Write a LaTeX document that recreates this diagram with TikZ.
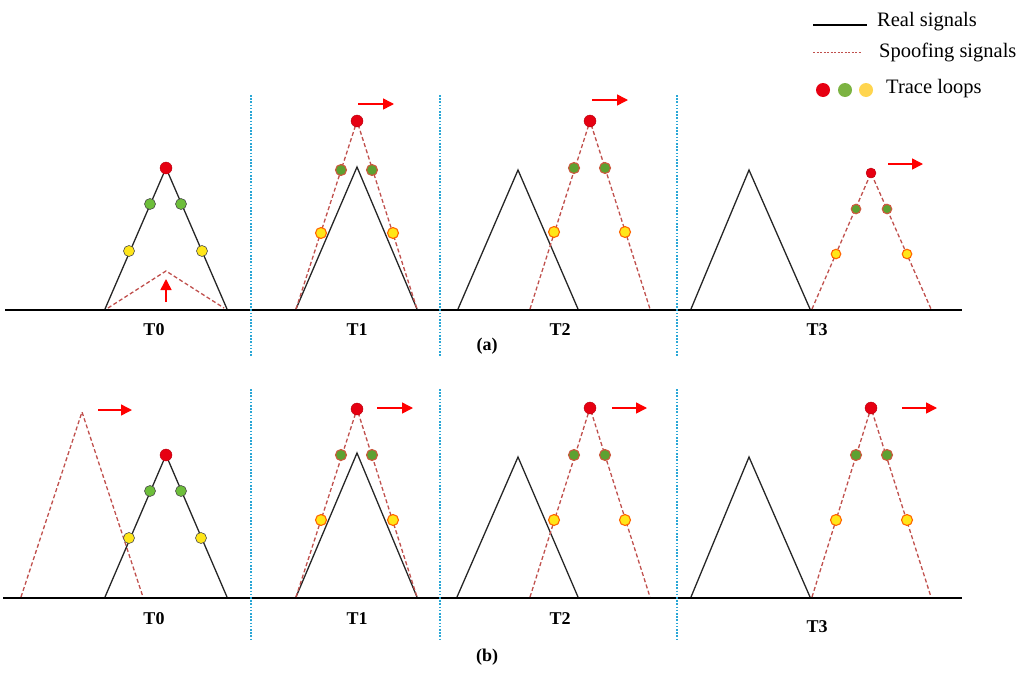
\documentclass[tikz,border=0pt]{standalone}
\usepackage{fontspec}
\setmainfont{Liberation Serif}
\usetikzlibrary{arrows.meta}
\definecolor{spoof}{HTML}{C0504D}
\definecolor{dotred}{HTML}{E60012}
\definecolor{dotgreen}{HTML}{6DBE3A}
\definecolor{dotyellow}{HTML}{FFE619}
\definecolor{legyellow}{HTML}{FFD54F}
\definecolor{leggreen}{HTML}{7CB342}
\definecolor{sep}{HTML}{2AA7D6}
\tikzset{
  real/.style={black!85, line width=1.3pt},
  spoofline/.style={spoof, line width=1.3pt, dash pattern=on 4pt off 2.5pt},
  axis/.style={black, line width=2.6pt},
  sepline/.style={sep, line width=1.6pt, dash pattern=on 1.6pt off 1.6pt},
  rdot/.style={circle, fill=dotred, draw=dotred!80!black, line width=0.4pt, minimum size=12pt, inner sep=0pt},
  gdot/.style={circle, fill=dotgreen, draw=black!70, line width=0.6pt, minimum size=11pt, inner sep=0pt},
  ydot/.style={circle, fill=dotyellow, draw=black!70, line width=0.6pt, minimum size=11pt, inner sep=0pt},
  sgdot/.style={circle, fill=dotgreen!85!black, draw=spoof!80!orange, line width=1.1pt, minimum size=11pt, inner sep=0pt},
  sydot/.style={circle, fill=dotyellow, draw=orange!80!red, line width=1.1pt, minimum size=11pt, inner sep=0pt},
  mov/.style={red, line width=1.5pt, -{Triangle[length=11pt, width=11pt]}},
  lbl/.style={font=\bfseries\fontsize{18}{20}\selectfont, inner sep=0pt},
  leg/.style={font=\fontsize{20.5}{24}\selectfont, anchor=west, inner sep=0pt},
}
\begin{document}
\begin{tikzpicture}[x=1pt, y=-1pt]
\useasboundingbox (0,0) rectangle (1024,680);
% ---------- legend ----------
\coordinate (l1a) at (813,25); \coordinate (l1b) at (867,25);
\draw[black, line width=2.2pt] (l1a) -- (l1b);
\node[leg] (lt1) at (877,22) {Real signals};
\coordinate (l2a) at (813,52); \coordinate (l2b) at (862,52);
\draw[spoof, line width=1pt, dash pattern=on 2pt off 1.5pt] (l2a) -- (l2b);
\node[leg] (lt2) at (879,52) {Spoofing signals};
\node[circle, fill=dotred, minimum size=14pt, inner sep=0pt] (ld1) at (823,90) {};
\node[circle, fill=leggreen, minimum size=14pt, inner sep=0pt] (ld2) at (845,90) {};
\node[circle, fill=legyellow, minimum size=14pt, inner sep=0pt] (ld3) at (866,90) {};
\node[leg] (lt3) at (886,89) {Trace loops};

% ---------- panel (a) ----------
\coordinate (aL) at (5,310); \coordinate (aR) at (962,310);
\draw[axis] (aL) -- (aR);
\foreach \x/\n in {251/1,440/2,677/3}{
  \coordinate (sa\n t) at (\x,95); \coordinate (sa\n b) at (\x,357);
  \draw[sepline] (sa\n t) -- (sa\n b);
}
% T0 (a)
\coordinate (a0l) at (105,309); \coordinate (a0t) at (166,168); \coordinate (a0r) at (227,309);
\draw[real] (a0l) -- (a0t) -- (a0r);
\coordinate (a0sl) at (108,308); \coordinate (a0st) at (166,271); \coordinate (a0sr) at (224,308);
\draw[spoofline] (a0sl) -- (a0st) -- (a0sr);
\coordinate (a0u1) at (166,302); \coordinate (a0u2) at (166,279);
\draw[mov] (a0u1) -- (a0u2);
\node[rdot] (a0d1) at (166,168) {};
\node[gdot] (a0d2) at (150,204) {};
\node[gdot] (a0d3) at (181,204) {};
\node[ydot] (a0d4) at (129,251) {};
\node[ydot] (a0d5) at (202,251) {};
% T1 (a)
\coordinate (a1l) at (296,309); \coordinate (a1t) at (357,167); \coordinate (a1r) at (417,309);
\draw[real] (a1l) -- (a1t) -- (a1r);
\coordinate (a1st) at (357,121);
\draw[spoofline] (a1l) -- (a1st) -- (a1r);
\node[rdot] (a1d1) at (357,121) {};
\node[sgdot] (a1d2) at (341,170) {};
\node[sgdot] (a1d3) at (372,170) {};
\node[sydot] (a1d4) at (321,233) {};
\node[sydot] (a1d5) at (393,233) {};
\coordinate (a1m1) at (358,104); \coordinate (a1m2) at (394,104);
\draw[mov] (a1m1) -- (a1m2);
% T2 (a)
\coordinate (a2l) at (458,309); \coordinate (a2t) at (518,170); \coordinate (a2r) at (578,309);
\draw[real] (a2l) -- (a2t) -- (a2r);
\coordinate (a2sl) at (530,309); \coordinate (a2st) at (590,121); \coordinate (a2sr) at (650,309);
\draw[spoofline] (a2sl) -- (a2st) -- (a2sr);
\node[rdot] (a2d1) at (590,121) {};
\node[sgdot] (a2d2) at (574,168) {};
\node[sgdot] (a2d3) at (605,168) {};
\node[sydot] (a2d4) at (554,232) {};
\node[sydot] (a2d5) at (625,232) {};
\coordinate (a2m1) at (592,100); \coordinate (a2m2) at (628,100);
\draw[mov] (a2m1) -- (a2m2);
% T3 (a)
\coordinate (a3l) at (691,309); \coordinate (a3t) at (749,170); \coordinate (a3r) at (810,309);
\draw[real] (a3l) -- (a3t) -- (a3r);
\coordinate (a3sl) at (812,309); \coordinate (a3st) at (871,173); \coordinate (a3sr) at (931,309);
\draw[spoofline] (a3sl) -- (a3st) -- (a3sr);
\node[rdot, minimum size=10pt] (a3d1) at (871,173) {};
\node[sgdot, minimum size=9.5pt] (a3d2) at (856,209) {};
\node[sgdot, minimum size=9.5pt] (a3d3) at (887,209) {};
\node[sydot, minimum size=9.5pt] (a3d4) at (836,254) {};
\node[sydot, minimum size=9.5pt] (a3d5) at (907,254) {};
\coordinate (a3m1) at (888,164); \coordinate (a3m2) at (923,164);
\draw[mov] (a3m1) -- (a3m2);
% labels (a)
\node[lbl] (la0) at (154,330) {T0};
\node[lbl] (la1) at (357,330) {T1};
\node[lbl] (la2) at (560,330) {T2};
\node[lbl] (la3) at (817,330) {T3};
\node[lbl] (la) at (487,346) {(a)};

% ---------- panel (b) ----------
\coordinate (bL) at (3,598); \coordinate (bR) at (962,598);
\draw[axis] (bL) -- (bR);
\foreach \x/\n in {251/1,440/2,677/3}{
  \coordinate (sb\n t) at (\x,389); \coordinate (sb\n b) at (\x,640);
  \draw[sepline] (sb\n t) -- (sb\n b);
}
% T0 (b)
\coordinate (b0sl) at (21,597); \coordinate (b0st) at (82,412); \coordinate (b0sr) at (143,597);
\draw[spoofline] (b0sl) -- (b0st) -- (b0sr);
\coordinate (b0m1) at (98,410); \coordinate (b0m2) at (132,410);
\draw[mov] (b0m1) -- (b0m2);
\coordinate (b0l) at (105,597); \coordinate (b0t) at (166,455); \coordinate (b0r) at (227,597);
\draw[real] (b0l) -- (b0t) -- (b0r);
\node[rdot] (b0d1) at (166,455) {};
\node[gdot] (b0d2) at (150,491) {};
\node[gdot] (b0d3) at (181,491) {};
\node[ydot] (b0d4) at (129,538) {};
\node[ydot] (b0d5) at (201,538) {};
% T1 (b)
\coordinate (b1l) at (296,597); \coordinate (b1t) at (357,453); \coordinate (b1r) at (417,597);
\draw[real] (b1l) -- (b1t) -- (b1r);
\coordinate (b1st) at (357,409);
\draw[spoofline] (b1l) -- (b1st) -- (b1r);
\node[rdot] (b1d1) at (357,409) {};
\node[sgdot] (b1d2) at (341,455) {};
\node[sgdot] (b1d3) at (372,455) {};
\node[sydot] (b1d4) at (321,520) {};
\node[sydot] (b1d5) at (393,520) {};
\coordinate (b1m1) at (377,408); \coordinate (b1m2) at (413,408);
\draw[mov] (b1m1) -- (b1m2);
% T2 (b)
\coordinate (b2l) at (457,597); \coordinate (b2t) at (518,457); \coordinate (b2r) at (578,597);
\draw[real] (b2l) -- (b2t) -- (b2r);
\coordinate (b2sl) at (530,597); \coordinate (b2st) at (590,408); \coordinate (b2sr) at (650,597);
\draw[spoofline] (b2sl) -- (b2st) -- (b2sr);
\node[rdot] (b2d1) at (590,408) {};
\node[sgdot] (b2d2) at (574,455) {};
\node[sgdot] (b2d3) at (605,455) {};
\node[sydot] (b2d4) at (554,520) {};
\node[sydot] (b2d5) at (625,520) {};
\coordinate (b2m1) at (612,408); \coordinate (b2m2) at (647,408);
\draw[mov] (b2m1) -- (b2m2);
% T3 (b)
\coordinate (b3l) at (691,597); \coordinate (b3t) at (749,457); \coordinate (b3r) at (810,597);
\draw[real] (b3l) -- (b3t) -- (b3r);
\coordinate (b3sl) at (812,597); \coordinate (b3st) at (871,408); \coordinate (b3sr) at (931,597);
\draw[spoofline] (b3sl) -- (b3st) -- (b3sr);
\node[rdot] (b3d1) at (871,408) {};
\node[sgdot] (b3d2) at (856,455) {};
\node[sgdot] (b3d3) at (887,455) {};
\node[sydot] (b3d4) at (836,520) {};
\node[sydot] (b3d5) at (907,520) {};
\coordinate (b3m1) at (902,408); \coordinate (b3m2) at (937,408);
\draw[mov] (b3m1) -- (b3m2);
% labels (b)
\node[lbl] (lb0) at (154,619) {T0};
\node[lbl] (lb1) at (357,619) {T1};
\node[lbl] (lb2) at (560,619) {T2};
\node[lbl] (lb3) at (817,627) {T3};
\node[lbl] (lb) at (487,657) {(b)};
\end{tikzpicture}
\end{document}
